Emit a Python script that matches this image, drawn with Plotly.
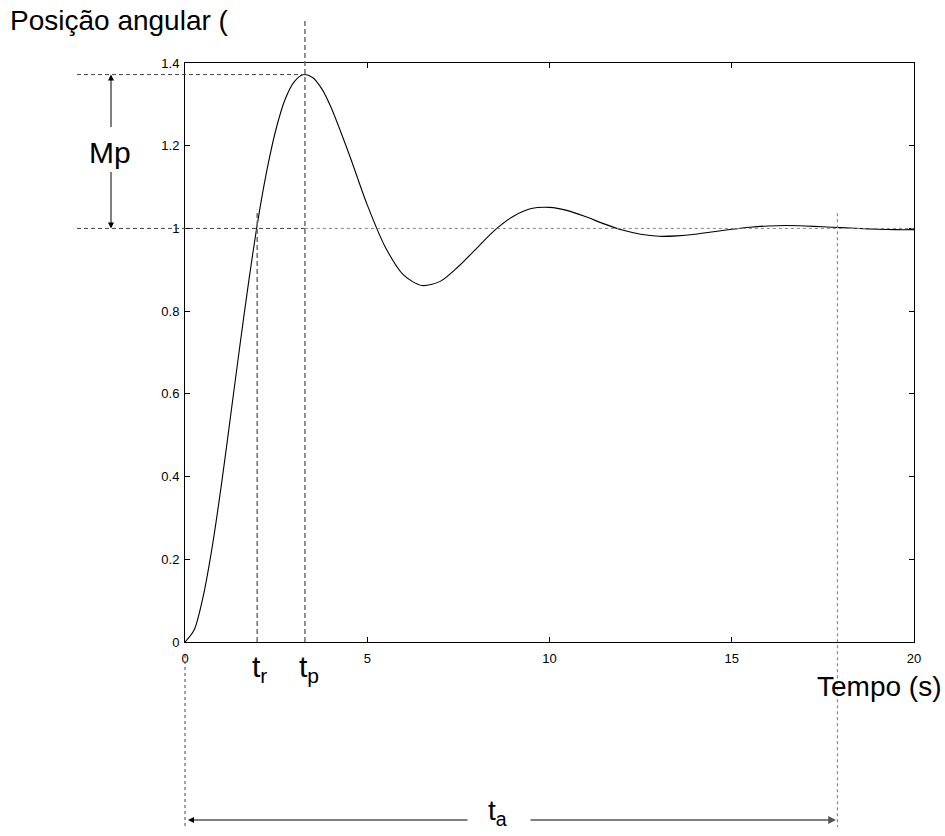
import plotly.graph_objects as go

# ---- data ----
t = [0, 0.25, 0.5, 0.75, 1, 1.25, 1.5, 1.75, 2, 2.25, 2.5, 2.75, 3, 3.25, 3.5, 3.75, 4,
     4.5, 5, 5.5, 6, 6.5, 7, 7.5, 8, 8.5, 9, 9.5, 10, 10.5, 11, 11.5, 12, 12.5, 13, 13.5,
     14, 14.5, 15, 15.5, 16, 16.5, 17, 17.5, 18, 18.5, 19, 19.5, 20]
y = [0, 0.029, 0.111, 0.232, 0.381, 0.546, 0.713, 0.873, 1.019, 1.142, 1.241, 1.313,
     1.355, 1.372, 1.365, 1.338, 1.294, 1.180, 1.057, 0.954, 0.887, 0.862, 0.872, 0.908,
     0.952, 0.996, 1.029, 1.048, 1.051, 1.043, 1.028, 1.011, 0.996, 0.986, 0.981, 0.982,
     0.986, 0.992, 0.998, 1.003, 1.006, 1.007, 1.006, 1.004, 1.002, 1.000, 0.998, 0.997,
     0.997]

x_ticks = [0, 5, 10, 15, 20]
y_ticks = [0, 0.2, 0.4, 0.6, 0.8, 1, 1.2, 1.4]
y_tick_text = ["0", "0.2", "0.4", "0.6", "0.8", "1", "1.2", "1.4"]

t_r = 1.98      # rise time
t_p = 3.29      # peak time
t_a = 17.9      # settling time
y_peak = 1.372
y_final = 1.0
X_MAX = 20
Y_MAX = 1.4

# plot-area geometry (pixels) used to place out-of-plot annotations
L, R, T, B = 185, 914, 63, 642
PW, PH = R - L, B - T


def px(v):  # data x -> paper
    return v / X_MAX


def py(v):  # data y -> paper
    return v / Y_MAX


def ppx(p):  # pixel x -> paper
    return (p - L) / PW


def ppy(p):  # pixel y -> paper
    return (B - p) / PH


FONT = "Liberation Sans, Arial, sans-serif"

fig = go.Figure()
fig.add_trace(go.Scatter(x=t, y=y, mode="lines",
                         line=dict(color="black", width=1.1, shape="spline", smoothing=0.8),
                         hoverinfo="skip", showlegend=False))

GRAY = "#6e6e6e"
shapes = []
shapes.append(dict(type="line", xref="paper", yref="paper", x0=ppx(77), x1=px(t_p),
                   y0=py(y_peak), y1=py(y_peak), line=dict(color="#444", width=1, dash="4px,3px")))
shapes.append(dict(type="line", xref="paper", yref="paper", x0=ppx(77), x1=px(t_p),
                   y0=py(y_final), y1=py(y_final), line=dict(color="#444", width=1, dash="4px,3px")))
shapes.append(dict(type="line", xref="paper", yref="paper", x0=px(t_p), x1=1,
                   y0=py(y_final), y1=py(y_final), line=dict(color="#888", width=1, dash="dot")))
shapes.append(dict(type="line", xref="paper", yref="paper", x0=px(t_p), x1=px(t_p),
                   y0=0, y1=ppy(20), line=dict(color=GRAY, width=1.5, dash="5px,3px")))
shapes.append(dict(type="line", xref="paper", yref="paper", x0=px(t_r), x1=px(t_r),
                   y0=0, y1=py(1.045), line=dict(color=GRAY, width=1.5, dash="5px,3px")))
shapes.append(dict(type="line", xref="paper", yref="paper", x0=px(t_a), x1=px(t_a),
                   y0=py(1.037), y1=ppy(827), line=dict(color="#888", width=1.2, dash="dot")))
shapes.append(dict(type="line", xref="paper", yref="paper", x0=0.0, x1=0.0,
                   y0=ppy(655), y1=ppy(827), line=dict(color="#666", width=1.2, dash="dot")))
fig.update_layout(shapes=shapes)

ann = []
# Mp double arrow (two halves around the label)
ann.append(dict(xref="paper", yref="paper", x=ppx(111), y=py(y_peak), ax=0, ay=54,
                text="", showarrow=True, arrowhead=2, arrowsize=1.2, arrowwidth=1, arrowcolor="black"))
ann.append(dict(xref="paper", yref="paper", x=ppx(111), y=py(y_final), ax=0, ay=-58,
                text="", showarrow=True, arrowhead=2, arrowsize=1.2, arrowwidth=1, arrowcolor="black"))
ann.append(dict(xref="paper", yref="paper", x=ppx(110), y=ppy(152), xanchor="center", yanchor="middle",
                text="Mp", showarrow=False, font=dict(size=30, color="black", family=FONT)))
# t_a double arrow
ann.append(dict(xref="paper", yref="paper", x=ppx(188), y=ppy(820), ax=281, ay=0,
                text="", showarrow=True, arrowhead=2, arrowsize=1.2, arrowwidth=1, arrowcolor="black"))
ann.append(dict(xref="paper", yref="paper", x=ppx(836), y=ppy(820), ax=-307, ay=0,
                text="", showarrow=True, arrowhead=2, arrowsize=1.2, arrowwidth=1.3, arrowcolor="#555"))
ann.append(dict(xref="paper", yref="paper", x=ppx(497), y=ppy(812), xanchor="center", yanchor="middle",
                text="t<sub>a</sub>", showarrow=False, font=dict(size=28, color="black", family=FONT)))
# t_r, t_p labels
ann.append(dict(xref="paper", yref="paper", x=ppx(259), y=ppy(648), xanchor="center", yanchor="top",
                text="t<sub>r</sub>", showarrow=False, font=dict(size=30, color="black", family=FONT)))
ann.append(dict(xref="paper", yref="paper", x=ppx(309), y=ppy(648), xanchor="center", yanchor="top",
                text="t<sub>p</sub>", showarrow=False, font=dict(size=30, color="black", family=FONT)))
# axis titles
ann.append(dict(xref="paper", yref="paper", x=ppx(8), y=ppy(20),
                xanchor="left", yanchor="middle", text="Posição angular (", showarrow=False,
                font=dict(size=28, color="black", family=FONT)))
ann.append(dict(xref="paper", yref="paper", x=ppx(943), y=ppy(686),
                xanchor="right", yanchor="middle", text="Tempo (s)", showarrow=False,
                font=dict(size=28, color="black", family=FONT)))
fig.update_layout(annotations=ann)

axis_common = dict(showline=True, linecolor="black", linewidth=1, mirror="ticks",
                   ticks="inside", ticklen=5, tickcolor="black", tickwidth=1,
                   showgrid=False, zeroline=False,
                   tickfont=dict(size=13, color="black", family=FONT))
fig.update_xaxes(range=[0, X_MAX], tickvals=x_ticks, ticktext=[str(v) for v in x_ticks],
                 ticklabelstandoff=4, **axis_common)
fig.update_yaxes(range=[0, Y_MAX], tickvals=y_ticks, ticktext=y_tick_text,
                 ticklabelstandoff=2, **axis_common)

fig.update_layout(width=945, height=836, plot_bgcolor="white", paper_bgcolor="white",
                  margin=dict(l=L, r=945 - R, t=T, b=836 - B), showlegend=False)

fig.write_html("out.html")
